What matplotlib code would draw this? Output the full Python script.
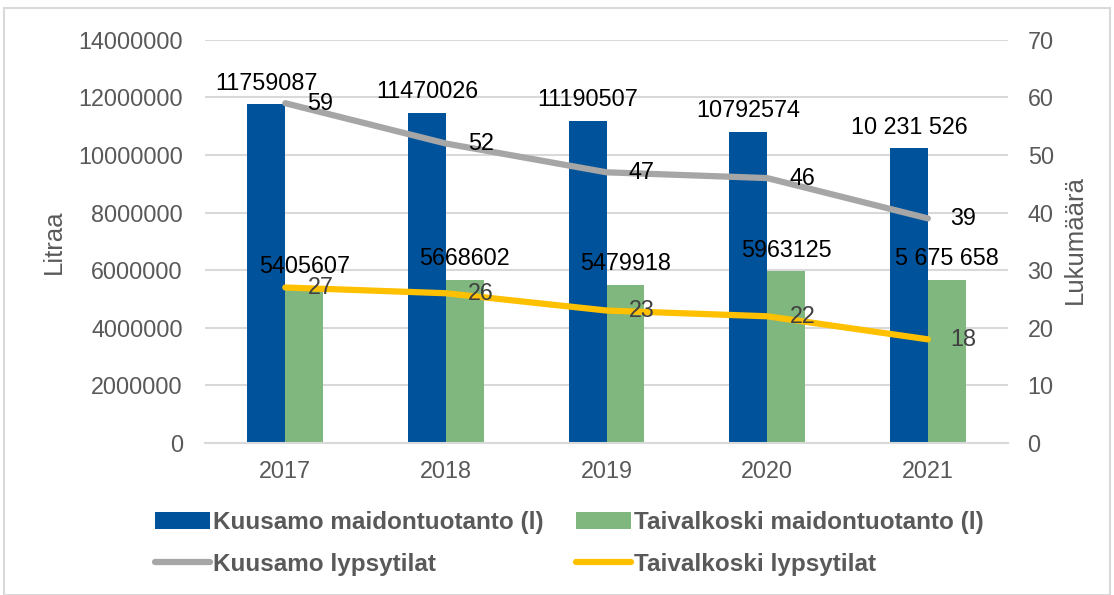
import matplotlib
matplotlib.use("Agg")
import matplotlib.pyplot as plt
import numpy as np
from matplotlib.patches import Rectangle

plt.rcParams['font.family'] = ['Liberation Sans', 'DejaVu Sans']

years = ["2017", "2018", "2019", "2020", "2021"]
kuusamo_milk = [11759087, 11470026, 11190507, 10792574, 10231526]
taivalkoski_milk = [5405607, 5668602, 5479918, 5963125, 5675658]
kuusamo_milk_labels = ["11759087", "11470026", "11190507", "10792574", "10 231 526"]
taivalkoski_milk_labels = ["5405607", "5668602", "5479918", "5963125", "5 675 658"]
kuusamo_farms = [59, 52, 47, 46, 39]
taivalkoski_farms = [27, 26, 23, 22, 18]

blue = "#00529B"
green = "#7FB77E"
gray = "#A6A6A6"
yellow = "#FFC000"
tick_col = "#595959"
FS = 16.8

fig = plt.figure(figsize=(11.14, 5.95), dpi=100)
ax = fig.add_axes([0.184, 0.2555, 0.721, 0.6775])
ax2 = ax.twinx()

x = np.arange(len(years))
w = 0.236
b1 = ax.bar(x - w/2, kuusamo_milk, width=w, color=blue, label="Kuusamo maidontuotanto (l)", zorder=2)
b2 = ax.bar(x + w/2, taivalkoski_milk, width=w, color=green, label="Taivalkoski maidontuotanto (l)", zorder=2)

ax.set_ylim(0, 14000000)
ax.set_yticks(np.arange(0, 14000001, 2000000))
ax.set_yticklabels([str(v) for v in range(0, 14000001, 2000000)])
ax.set_xlim(-0.5, 4.5)
ax.set_xticks(x)
ax.set_xticklabels(years)
ax.grid(axis='y', color="#D9D9D9", linewidth=1.5, zorder=0)
ax.set_axisbelow(True)
for s in ax.spines.values():
    s.set_visible(False)
ax.spines['bottom'].set_visible(True)
ax.spines['bottom'].set_color("#D9D9D9")
ax.spines['bottom'].set_linewidth(1.5)
ax.tick_params(axis='y', length=0, labelsize=FS, colors=tick_col, pad=16)
ax.tick_params(axis='x', length=0, labelsize=FS, colors=tick_col, pad=12)
ax.set_ylabel("Litraa", fontsize=18.5, color=tick_col)
ax.yaxis.set_label_coords(-0.173, 0.5)

l1, = ax2.plot(x, kuusamo_farms, color=gray, linewidth=4.5, solid_capstyle='round', label="Kuusamo lypsytilat", zorder=3)
l2, = ax2.plot(x, taivalkoski_farms, color=yellow, linewidth=4.5, solid_capstyle='round', label="Taivalkoski lypsytilat", zorder=3)
ax2.set_ylim(0, 70)
ax2.set_yticks(range(0, 71, 10))
for s in ax2.spines.values():
    s.set_visible(False)
ax2.tick_params(axis='y', length=0, labelsize=FS, colors=tick_col, pad=14)
ax2.set_ylabel("Lukumäärä", fontsize=18.5, color=tick_col, rotation=90)
ax2.yaxis.set_label_coords(1.068, 0.504)

# data labels
for i in range(len(years)):
    ax.annotate(kuusamo_milk_labels[i], (x[i] - w/2, kuusamo_milk[i]), xytext=(0, 7),
                textcoords='offset points', ha='center', va='bottom', fontsize=FS, color='black')
    ax.annotate(taivalkoski_milk_labels[i], (x[i] + w/2, taivalkoski_milk[i]), xytext=(0, 7),
                textcoords='offset points', ha='center', va='bottom', fontsize=FS, color='black')
    ax2.annotate(str(kuusamo_farms[i]), (x[i], kuusamo_farms[i]), xytext=(16, 0),
                 textcoords='offset points', ha='left', va='center', fontsize=FS, color='black')
    ax2.annotate(str(taivalkoski_farms[i]), (x[i], taivalkoski_farms[i]), xytext=(16, 0),
                 textcoords='offset points', ha='left', va='center', fontsize=FS, color='#404040')

leg = fig.legend(handles=[b1, l1, b2, l2], loc='center', bbox_to_anchor=(0.511, 0.0866),
                 ncol=2, frameon=False, prop={'weight': 'bold', 'size': 17.5},
                 handlelength=2.26, handletextpad=0.12, columnspacing=1.36, labelspacing=0.75,
                 borderpad=0)
for t in leg.get_texts():
    t.set_color(tick_col)

fig.patches.append(Rectangle((0.004, 0.0), 0.992, 0.986, transform=fig.transFigure,
                             fill=False, edgecolor="#D9D9D9", linewidth=1.5))

fig.savefig("out.png", dpi=100)
